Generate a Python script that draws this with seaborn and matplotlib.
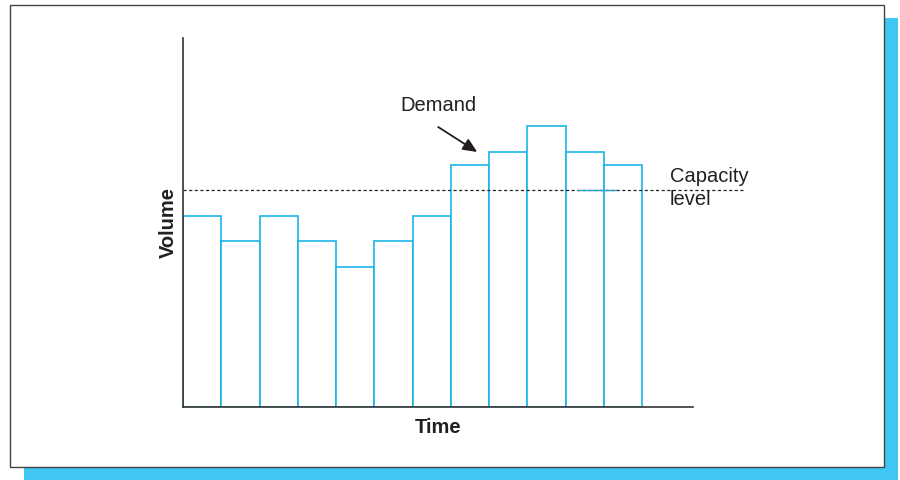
import matplotlib
matplotlib.use("Agg")
import matplotlib.pyplot as plt
from matplotlib.patches import Rectangle
import pandas as pd
import seaborn as sns

# Demand per period (arbitrary volume units) and the fixed capacity level
periods = list(range(1, 13))
demand = [7.5, 6.5, 7.5, 6.5, 5.5, 6.5, 7.5, 9.5, 10, 11, 10, 9.5]
capacity = 8.5

sns.set_style("white")
plt.rcParams["font.family"] = ["Liberation Sans", "DejaVu Sans"]

BAR_EDGE = "#1ab4e8"
SHADOW = "#40c6f2"
INK = "#231f20"

fig = plt.figure(figsize=(9, 4.8), dpi=100)

# Framed panel with an offset drop shadow (kept beneath the axes)
fig.patches.append(Rectangle((24 / 900, 0), 874 / 900, 462 / 480,
                             transform=fig.transFigure, facecolor=SHADOW,
                             edgecolor="none", zorder=-2))
fig.patches.append(Rectangle((10 / 900, 13 / 480), 874 / 900, 462 / 480,
                             transform=fig.transFigure, facecolor="white",
                             edgecolor="#444444", linewidth=1.0, zorder=-1))

ax = fig.add_axes([183 / 900, 73 / 480, 510 / 900, 369 / 480])
ax.set_facecolor("none")

df = pd.DataFrame({"period": periods, "demand": demand})
sns.barplot(data=df, x="period", y="demand", ax=ax, width=1.0,
            color="white", edgecolor=BAR_EDGE, linewidth=1.2,
            errorbar=None, zorder=2)
for p in ax.patches:
    p.set_facecolor("white")
    p.set_edgecolor(BAR_EDGE)

ax.set_xlim(-0.5, 12.83)
ax.set_ylim(0, 14.47)

# Capacity level, running past the axis into the label area
ax.plot([-0.5, 14.19], [capacity, capacity], linestyle=(0, (2.5, 2)),
        color="#222222", linewidth=0.9, clip_on=False, zorder=3)
ax.plot([9.83, 10.82], [capacity, capacity], color="#2a9fd0",
        linewidth=1.0, zorder=3)

ax.text(6.17, 11.84, "Demand", ha="center", va="center", fontsize=14.5,
        color=INK)
ax.annotate("", xy=(7.19, 10.0), xytext=(6.17, 10.98),
            arrowprops=dict(arrowstyle="-|>,head_length=0.85,head_width=0.38",
                            color=INK, linewidth=1.3,
                            shrinkA=0, shrinkB=0))
ax.text(12.23, 8.82, "Capacity", ha="left", va="baseline",
        fontsize=14.5, color=INK)
ax.text(12.23, 7.92, "level", ha="left", va="baseline",
        fontsize=14.5, color=INK)

ax.set_xticks([])
ax.set_yticks([])
ax.set_xlabel("Time", fontsize=14.5, fontweight="bold", color=INK,
              labelpad=8)
ax.set_ylabel("Volume", fontsize=14.5, fontweight="bold", color=INK,
              labelpad=4)

for side in ("top", "right"):
    ax.spines[side].set_visible(False)
for side in ("left", "bottom"):
    ax.spines[side].set_color("#333333")
    ax.spines[side].set_linewidth(1.2)
    ax.spines[side].set_zorder(4)

fig.savefig("out.png", dpi=100)
